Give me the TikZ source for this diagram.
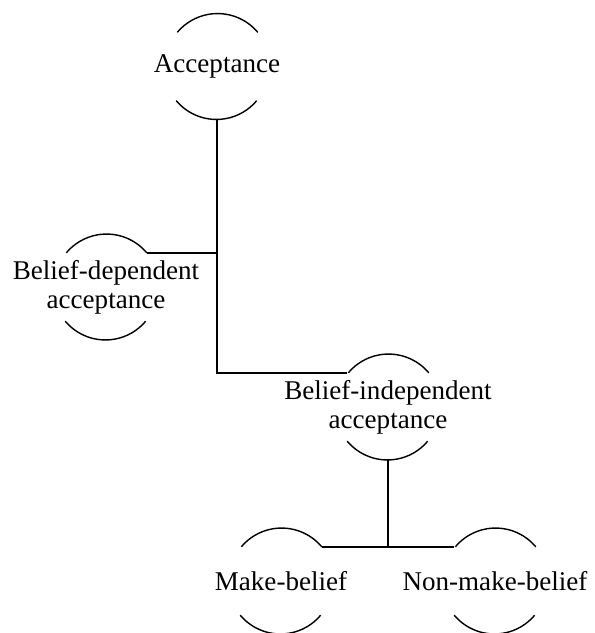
\documentclass[tikz,border=0pt]{standalone}
\usepackage{fontspec}
\setmainfont{Liberation Serif}
\usepackage{tikz}
\usetikzlibrary{calc}

\begin{document}
\begin{tikzpicture}[x=1cm,y=1cm,line width=0.8pt,
    txt/.style={align=center, inner sep=0pt, font=\fontsize{15.4}{16.6}\selectfont},
    ring/.style={circle, minimum size=2.1cm, inner sep=0pt}]
  \useasboundingbox (0,0) rectangle (11.88,-12.66);
  % ---- texts ----
  \node[txt] (acc) at (4.34,-1.33) {Acceptance};
  \node[txt] (bd)  at (2.12,-5.74) {Belief-dependent\\ acceptance};
  \node[txt] (bi)  at (7.76,-8.14) {Belief-independent\\ acceptance};
  \node[txt] (mb)  at (5.62,-11.62) {Make-belief};
  \node[txt] (nmb) at (9.90,-11.62) {Non-make-belief};
  % ---- rings (only top and bottom arcs are shown) ----
  \foreach \n in {acc,bd,bi,mb,nmb}{
    \node[ring] (\n R) at (\n) {};
    \draw (\n R.40) arc[start angle=40, end angle=140, radius=1.05cm];
    \draw (\n R.220) arc[start angle=220, end angle=320, radius=1.05cm];
  }
  % ---- tree lines ----
  \draw (accR.south) |- (biR.140);
  \draw (bdR.40) -- (bdR.40 -| accR.south);
  \draw (biR.south) -- (biR.south |- mbR.40);
  \draw (mbR.40) -- (nmbR.140);
\end{tikzpicture}
\end{document}
